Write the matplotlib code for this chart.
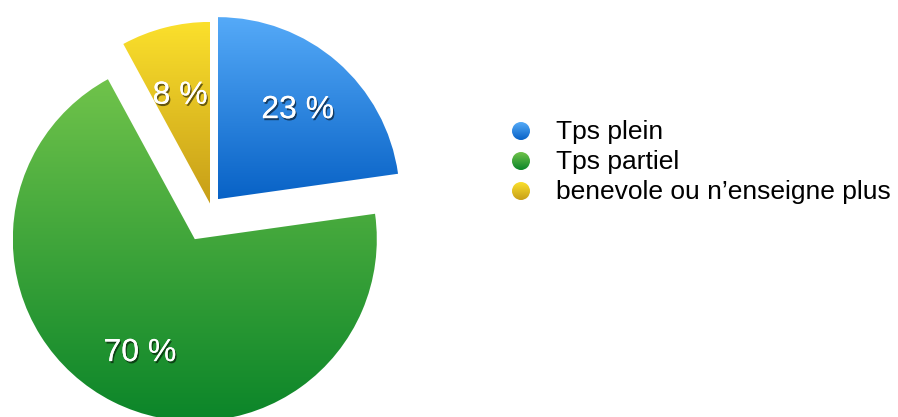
import numpy as np
import matplotlib
matplotlib.use("Agg")
import matplotlib.pyplot as plt
import matplotlib.patheffects as pe
from matplotlib.colors import LinearSegmentedColormap

plt.rcParams['font.family'] = ['Liberation Sans', 'DejaVu Sans']

# data
categories = ['Tps plein', 'Tps partiel', 'benevole ou n\u2019enseigne plus']
values = [23, 70, 8]
pct_labels = ['23 %', '70 %', '8 %']
explode = [10.4, 36, 3.2]   # pixel offsets (pie explode is in data units)
# gradient colours (top, bottom)
grad_colors = [('#55aaf8', '#0862c6'),
               ('#70c34b', '#0b8529'),
               ('#fbe02c', '#c79e18')]
label_nudge = [3, 5, 10]    # push the % labels down a little

W, H = 898, 417
fig = plt.figure(figsize=(W / 100, H / 100), dpi=100)
ax = fig.add_axes([0, 0, 1, 1])

R = 182
center = (211, H - 207)

wedges, texts, autotexts = ax.pie(values, explode=explode, startangle=90, counterclock=False,
                                  radius=R, center=center, autopct='%d', pctdistance=0.67,
                                  wedgeprops=dict(linewidth=0), frame=True)
ax.set_xlim(0, W)
ax.set_ylim(0, H)
ax.set_aspect('equal')
ax.axis('off')


def fill_gradient(patch, top, bottom):
    cmap = LinearSegmentedColormap.from_list('g', [bottom, top])
    patch.set_facecolor('none')
    ext = patch.get_window_extent().transformed(ax.transData.inverted())
    grad = np.linspace(0, 1, 256).reshape(-1, 1)
    im = ax.imshow(grad, cmap=cmap, origin='lower', aspect='auto',
                   extent=[ext.x0, ext.x1, ext.y0, ext.y1], zorder=1)
    im.set_clip_path(patch)


for w, (top, bottom) in zip(wedges, grad_colors):
    fill_gradient(w, top, bottom)

shadow = [pe.withSimplePatchShadow(offset=(1, -1.5), shadow_rgbFace='black', alpha=0.55), pe.Normal()]
for t, lab, dy in zip(autotexts, pct_labels, label_nudge):
    t.set_text(lab)
    x, y = t.get_position()
    t.set_position((x, y - dy))
    t.set_color('white')
    t.set_fontsize(23)
    t.set_zorder(5)
    t.set_path_effects(shadow)

# legend
leg_y = [H - 139, H - 169, H - 199]
for cat, y, (top, bottom) in zip(categories, leg_y, grad_colors):
    circ = plt.Circle((521, y + 8), 9, transform=ax.transData)
    ax.add_patch(circ)
    fill_gradient(circ, top, bottom)
    ax.text(556, y, cat, fontsize=19, va='baseline', ha='left', color='black')

ax.set_xlim(0, W)
ax.set_ylim(0, H)
fig.savefig('out.png', dpi=100)
